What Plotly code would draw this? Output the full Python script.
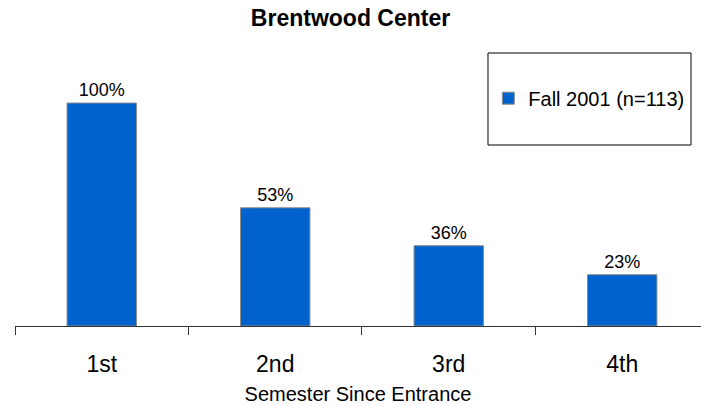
import plotly.graph_objects as go

categories = ["1st", "2nd", "3rd", "4th"]
values = [100, 53, 36, 23]
series_name = "Fall 2001 (n=113)"
title_text = "Brentwood Center"
x_title = "Semester Since Entrance"

FONT = "Liberation Sans, Arial, Helvetica, sans-serif"

W, H = 701, 406

fig = go.Figure()
fig.add_trace(go.Bar(
    x=categories,
    y=values,
    name=series_name,
    width=0.4,
    marker=dict(color="#0062CC", line=dict(color="#8C8C8C", width=1)),
    texttemplate="%{y}%",
    textposition="outside",
    textfont=dict(family=FONT, size=18, color="black"),
    cliponaxis=False,
    showlegend=True,
))

fig.update_layout(
    width=W,
    height=H,
    margin=dict(l=15, r=0, t=70, b=80),
    paper_bgcolor="white",
    plot_bgcolor="white",
    font=dict(family=FONT, color="black"),
    title=dict(
        text="<b>" + title_text + "</b>",
        font=dict(family=FONT, size=23, color="black"),
        x=0.5, xref="container", xanchor="center",
        y=1 - 18 / H, yref="container", yanchor="middle",
    ),
    showlegend=True,
    legend=dict(
        x=0.69, y=0.89, xanchor="left", yanchor="middle",
        xref="paper", yref="paper",
        font=dict(family=FONT, size=20, color="black"),
        bgcolor="rgba(0,0,0,0)",
        borderwidth=0,
    ),
    xaxis=dict(
        type="category",
        range=[-0.5, 3.454],
        showline=True, linecolor="#333333", linewidth=1,
        ticks="outside", tickson="boundaries", ticklen=8, tickcolor="#333333",
        tickfont=dict(family=FONT, size=23, color="black"),
        ticklabelstandoff=17,
        showgrid=False, zeroline=False,
        title=dict(text=x_title, font=dict(family=FONT, size=20, color="black"), standoff=11),
    ),
    yaxis=dict(
        visible=False,
        range=[0, 114.8],
        showgrid=False, zeroline=False,
    ),
    shapes=[dict(
        type="rect", xref="paper", yref="paper",
        x0=0.6895, x1=0.9854, y0=0.707, y1=1.0664,
        line=dict(color="black", width=1), fillcolor="rgba(0,0,0,0)",
        layer="above",
    )],
)

# remove the page's default 8px body margin so the figure fills the window
fig.write_html(
    "out.html",
    config={"displayModeBar": False},
    post_script="document.body.style.margin='0';document.body.style.overflow='hidden';",
)
